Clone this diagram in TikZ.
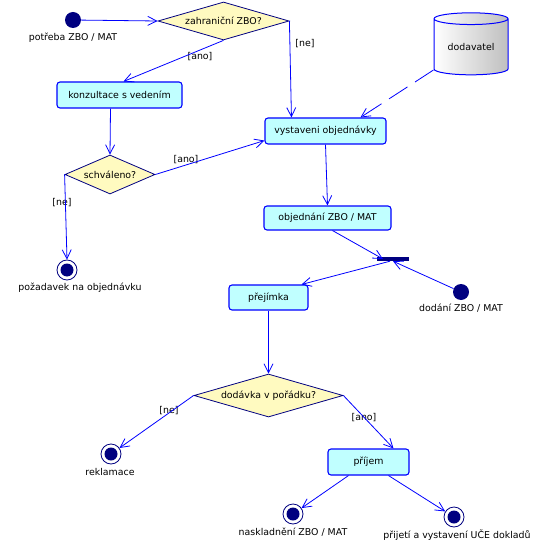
\documentclass[tikz,border=0pt]{standalone}
\usepackage{fontspec}
\setmainfont{DejaVu Sans}
\usetikzlibrary{shapes.geometric,arrows.meta}
\definecolor{navy}{HTML}{000080}
\definecolor{actfill}{HTML}{C0FFFF}
\definecolor{decfill}{HTML}{FFFAC0}
\definecolor{lineblue}{HTML}{0000FF}
\begin{document}
\begin{tikzpicture}[x=1pt,y=-1pt, font=\fontsize{9.4}{11}\selectfont,
  act/.style={draw=lineblue, fill=actfill, rounded corners=3pt, inner sep=0pt, line width=1.1pt},
  dec/.style={diamond, draw=navy, fill=decfill, inner sep=0pt, line width=0.8pt},
  flow/.style={draw=lineblue, line width=0.8pt, -{Straight Barb[length=9pt,width=9pt,line width=0.8pt]}},
  startst/.style={circle, fill=navy, minimum size=16pt, inner sep=0pt},
  endst/.style={circle, draw=navy, line width=0.8pt, fill=white, minimum size=20pt, inner sep=0pt,
    path picture={\fill[navy] (path picture bounding box.center) circle (6.5pt);}},
  syncbar/.style={rectangle, fill=navy, minimum width=32pt, minimum height=4pt, inner sep=0pt},
  lbl/.style={inner sep=1pt}
]
\useasboundingbox (0,0) rectangle (538,545);
% nodes
\node[startst] (s1) at (73,20) {};
\node[lbl] (s1l) at (73,38) {potřeba ZBO / MAT};
\node[dec, aspect=3.45, minimum width=131pt, minimum height=38pt] (zahr) at (223.5,21) {zahraniční ZBO?};
\node[act, minimum width=125pt, minimum height=26pt] (konz) at (119.5,95) {konzultace s vedením};
\node[act, minimum width=121pt, minimum height=26pt] (vys) at (325.5,131) {vystaveni objednávky};
\node[cylinder, shape border rotate=90, aspect=0.25, draw=lineblue, line width=1pt, left color=white, right color=gray!50,
  minimum width=74pt, minimum height=62pt, inner sep=0pt] (dod) at (471,47) {dodavatel};
\node[dec, aspect=2.3, minimum width=90pt, minimum height=39pt] (schv) at (110,174.5) {schváleno?};
\node[endst] (e1) at (67,270) {};
\node[lbl] (e1l) at (80,288) {požadavek na objednávku};
\node[act, minimum width=127pt, minimum height=24pt] (obj) at (327.5,218) {objednání ZBO / MAT};
\node[syncbar] (bar) at (393,259) {};
\node[startst] (s2) at (461,292) {};
\node[lbl] (s2l) at (461,308) {dodání ZBO / MAT};
\node[act, minimum width=79pt, minimum height=25pt] (prej) at (268.5,297.5) {přejímka};
\node[dec, aspect=3.47, minimum width=149pt, minimum height=43pt] (dodv) at (268.5,395.5) {dodávka v pořádku?};
\node[endst] (e2) at (111,454) {};
\node[lbl] (e2l) at (110,472) {reklamace};
\node[act, minimum width=81pt, minimum height=26pt] (prij) at (368.5,462) {příjem};
\node[endst] (e3) at (293,514) {};
\node[lbl] (e3l) at (293,532) {naskladnění ZBO / MAT};
\node[endst] (e4) at (454,517) {};
\node[lbl] (e4l) at (457,535) {přijetí a vystavení UČE dokladů};
% guard labels
\node[lbl] (g1) at (200,57) {[ano]};
\node[lbl] (g2) at (305,44) {[ne]};
\node[lbl] (g3) at (186,160) {[ano]};
\node[lbl] (g4) at (62,203) {[ne]};
\node[lbl] (g5) at (169,411) {[ne]};
\node[lbl] (g6) at (364,418) {[ano]};
% connectors
\draw[flow] (s1) -- (zahr.west);
\draw[flow] (zahr.south) -- ([xshift=4pt]konz.north);
\draw[flow] (zahr.east) -- ([xshift=27pt]vys.north west);
\draw[flow, dash pattern=on 22pt off 9pt] ([yshift=-23pt]dod.west) -- ([xshift=96pt]vys.north west);
\draw[flow] ([xshift=-9pt]konz.south) -- (schv.north);
\draw[flow] (schv.east) -- ([yshift=4pt]vys.south west);
\draw[flow] (schv.west) -- (e1.north);
\draw[flow] (vys.south) -- (obj.north);
\draw[flow] ([xshift=5pt]obj.south) -- ([xshift=-10pt]bar.center);
\draw[flow] (s2) -- (bar.south);
\draw[flow] ([xshift=-3pt]bar.south) -- ([xshift=-7pt]prej.north east);
\draw[flow] (prej.south) -- (dodv.north);
\draw[flow] (dodv.west) -- (e2);
\draw[flow] (dodv.east) -- ([xshift=25pt]prij.north);
\draw[flow] ([xshift=-20pt]prij.south) -- (e3);
\draw[flow] ([xshift=20pt]prij.south) -- (e4);
\end{tikzpicture}
\end{document}
